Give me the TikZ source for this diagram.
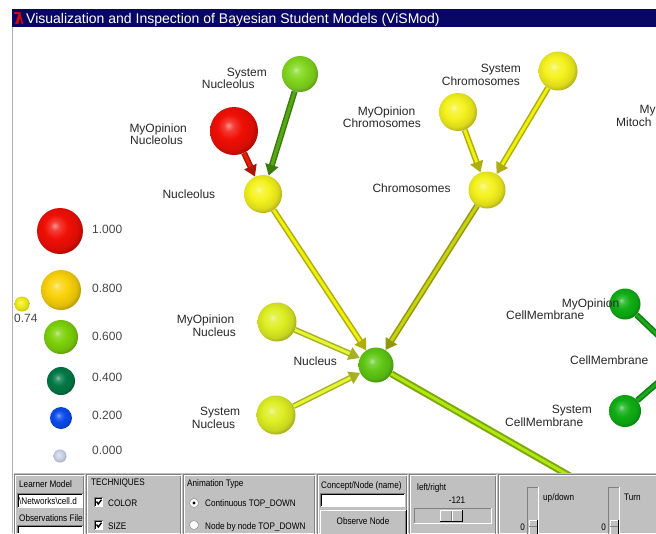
\documentclass[tikz,border=0pt]{standalone}
\usepackage{fontspec}
\setmainfont{Liberation Sans}
\newfontfamily\narrowsans{Liberation Sans}[FakeStretch=0.86]
\usetikzlibrary{arrows.meta}
\definecolor{navy}{RGB}{8,8,100}
\definecolor{pgray}{RGB}{192,192,192}
\definecolor{dgray}{RGB}{128,128,128}
\definecolor{txt}{RGB}{40,40,40}
\definecolor{ltxt}{RGB}{70,70,70}
\definecolor{cRed}{RGB}{240,15,5}
\definecolor{cYel}{RGB}{245,242,30}
\definecolor{cYG}{RGB}{222,238,35}
\definecolor{cLG}{RGB}{130,215,30}
\definecolor{cNuc}{RGB}{95,200,20}
\definecolor{cCM}{RGB}{15,175,20}
\definecolor{cGold}{RGB}{250,210,10}
\definecolor{cY74}{RGB}{240,236,20}
\definecolor{cG6}{RGB}{125,210,10}
\definecolor{cG4}{RGB}{0,120,70}
\definecolor{cB2}{RGB}{10,75,235}
\definecolor{cW0}{RGB}{205,212,232}
\definecolor{rGreen}{RGB}{85,170,20}
\definecolor{rRed}{RGB}{235,30,5}
\definecolor{rYel}{RGB}{240,240,15}
\definecolor{rOlive}{RGB}{200,210,15}
\definecolor{rYG}{RGB}{230,245,50}
\definecolor{rOut}{RGB}{175,232,15}
\definecolor{rCM}{RGB}{25,170,25}
\colorlet{ballc}{red}
\pgfdeclareradialshading[ballc]{myball}{\pgfpoint{-6bp}{6bp}}{%
  color(0bp)=(ballc!45!white); color(5bp)=(ballc!80!white); color(13bp)=(ballc);
  color(23bp)=(ballc!90!black); color(33bp)=(ballc!55!black); color(50bp)=(ballc!40!black)}
\tikzset{
  sphere/.style={circle, inner sep=0pt, draw=none, /utils/exec={\colorlet{ballc}{#1}}, shading=ball@dummy, shading=myball},
  rod/.style={line width=6pt, draw=#1!72!black, -{Triangle[width=13pt,length=11pt]},
    postaction={draw=#1, line width=3pt, -, shorten >=11pt}},
  lbl/.style={anchor=west, inner sep=0pt, text=txt, font=\fontsize{12}{13}\selectfont, text height=8.6pt, text depth=0pt},
  lgd/.style={lbl, text=ltxt},
  ptxt/.style={anchor=west, inner sep=0pt, text=black, font=\narrowsans\fontsize{9.5}{10}\selectfont, text height=6.8pt, text depth=0pt},
  etch/.style={draw=dgray, line width=1pt},
  etchw/.style={draw=white, line width=1pt},
}
\begin{document}
\begin{tikzpicture}[x=1pt,y=-1pt]
\useasboundingbox (0,0) rectangle (656,533);
\fill[white] (0,0) rectangle (656,533);
% title bar
\fill[navy] (12,9) rectangle (656,27);
\draw[red!85!black, line width=1.6pt] (14,13) -- (19.5,13) -- (16,24);
\draw[red!85!black, line width=1.6pt] (17.5,24) -- (20,15) -- (22.5,24);
\node[lbl, text=white, font=\fontsize{14}{15}\selectfont, text height=10pt] (title) at (26,18) {Visualization and Inspection of Bayesian Student Models (ViSMod)};
% window border
\draw[gray!60, line width=1pt] (12.5,27) -- (12.5,533);

\begin{scope}
\clip (13,27) rectangle (656,473);
% legend
\node[sphere=cRed, minimum size=46pt] (l100) at (60,231) {};
\node[sphere=cGold, minimum size=40pt] (l080) at (61,290) {};
\node[sphere=cY74, minimum size=15pt] (l074) at (22,304) {};
\node[sphere=cG6, minimum size=34pt] (l060) at (61,337) {};
\node[sphere=cG4, minimum size=28pt] (l040) at (61,381) {};
\node[sphere=cB2, minimum size=22pt] (l020) at (61,418) {};
\node[sphere=cW0, minimum size=13pt] (l000) at (60,456) {};
\node[lgd] (t100) at (92,229) {1.000};
\node[lgd] (t080) at (92,288) {0.800};
\node[lgd] (t074) at (14,318) {0.74};
\node[lgd] (t060) at (92,336) {0.600};
\node[lgd] (t040) at (92,377) {0.400};
\node[lgd] (t020) at (92,415) {0.200};
\node[lgd] (t000) at (92,450) {0.000};

% network spheres
\node[sphere=cLG, minimum size=36pt] (sno) at (300,74) {};
\node[sphere=cRed, minimum size=48pt] (mno) at (234,131) {};
\node[sphere=cYel, minimum size=38pt] (nol) at (263,194) {};
\node[sphere=cYel, minimum size=39pt] (sch) at (558,71) {};
\node[sphere=cYel, minimum size=38pt] (mch) at (458,112) {};
\node[sphere=cYel, minimum size=37pt] (chr) at (487,190) {};
\node[sphere=cYG, minimum size=39pt] (mnu) at (277,322) {};
\node[sphere=cNuc, minimum size=35pt] (nuc) at (376,365) {};
\node[sphere=cYG, minimum size=39pt] (snu) at (276,415) {};
\node[sphere=cCM, minimum size=31pt] (mcm) at (625,304) {};
\node[sphere=cCM, minimum size=32pt] (scm) at (625,411) {};
\node[sphere=cCM, minimum size=30pt] (cm) at (684,360) {};
\coordinate (cell) at (720,562);

% connectors
\draw[rod=rRed] (mno) -- (nol);
\draw[rod=rGreen] (sno) -- (nol);
\draw[rod=rYel] (nol) -- (nuc);
\draw[rod=rYel] (mch) -- (chr);
\draw[rod=rYel] (sch) -- (chr);
\draw[rod=rOlive] (chr) -- (nuc);
\draw[rod=rYG] (mnu) -- (nuc);
\draw[rod=rYG] (snu) -- (nuc);
\draw[rod=rOut, line width=7pt] (nuc) -- (cell);
\draw[rod=rCM] (mcm) -- (cm);
\draw[rod=rCM] (scm) -- (cm);

% labels
\node[lbl] (lsno1) at (226.7,72.3) {System};
\node[lbl] (lsno2) at (201.7,84.5) {Nucleolus};
\node[lbl] (lmno1) at (129.3,127.7) {MyOpinion};
\node[lbl] (lmno2) at (130,140) {Nucleolus};
\node[lbl] (lnol) at (162.3,194) {Nucleolus};
\node[lbl] (lsch1) at (480.7,67.7) {System};
\node[lbl] (lsch2) at (441.7,80.7) {Chromosomes};
\node[lbl] (lmch1) at (357.7,110.7) {MyOpinion};
\node[lbl] (lmch2) at (342.7,123.3) {Chromosomes};
\node[lbl] (lchr) at (372.3,188.3) {Chromosomes};
\node[lbl] (lmmi1) at (639.3,109.3) {My};
\node[lbl] (lmmi2) at (616,121.7) {Mitoch};
\node[lbl] (lmnu1) at (176.7,319) {MyOpinion};
\node[lbl] (lmnu2) at (192.3,331.7) {Nucleus};
\node[lbl] (lnuc) at (293.3,360.7) {Nucleus};
\node[lbl] (lsnu1) at (200,411) {System};
\node[lbl] (lsnu2) at (191.7,424.3) {Nucleus};
\node[lbl] (lmcm1) at (561.7,303.3) {MyOpinion};
\node[lbl] (lmcm2) at (506,315.5) {CellMembrane};
\node[lbl] (lcm) at (570,360) {CellMembrane};
\node[lbl] (lscm1) at (551.7,409.3) {System};
\node[lbl] (lscm2) at (505,422.3) {CellMembrane};
\end{scope}

% bottom control panel
\fill[pgray] (14,473) rectangle (656,533);
\foreach \a/\b in {14/84,86/181,183/315,317/407,409/496,498/700}{
  \draw[etch] (\a+0.5,474.5) rectangle (\b-0.5,545);
  \draw[etchw] (\a+1.5,475.5) rectangle (\b+0.5,546);
}
% Learner model
\node[ptxt] (tlm) at (19,484) {Learner Model};
\fill[white] (17,493) rectangle (83,508);
\draw[dgray] (17,508) -- (17,493) -- (83,493);
\draw[black] (18,507) -- (18,494) -- (82,494);
\begin{scope}
\clip (18,494) rectangle (83,508);
\node[ptxt] (tfile) at (19,501) {\textbackslash Networks\textbackslash cell.d};
\end{scope}
\node[ptxt] (tobs) at (19,518) {Observations File};
\fill[white] (17,525) rectangle (83,533);
\draw[dgray] (17,533) -- (17,525) -- (83,525);
\draw[black] (18,533) -- (18,526) -- (82,526);
% techniques
\node[ptxt] (ttech) at (91,482) {TECHNIQUES};
\foreach \yy in {497.5,520.5}{
  \fill[white] (94,\yy) rectangle (103,\yy+9);
  \draw[dgray] (94,\yy+9) -- (94,\yy) -- (103,\yy);
  \draw[black] (95,\yy+8) -- (95,\yy+1) -- (102,\yy+1);
  \draw[black, line width=1.4pt] (96.5,\yy+4) -- (98.3,\yy+6.5) -- (101.5,\yy+2.2);
}
\node[ptxt] (tcol) at (108,503) {COLOR};
\node[ptxt] (tsize) at (108,526) {SIZE};
% animation type
\node[ptxt] (tanim) at (187,483) {Animation Type};
\foreach \yy in {503,525}{
  \fill[white] (194,\yy) circle (4.5);
  \draw[dgray] (194,\yy) circle (4.5);
}
\fill[black] (194,503) circle (1.6);
\node[ptxt] (tcont) at (205,503) {Continuous TOP\_DOWN};
\node[ptxt] (tnode) at (205,526) {Node by node TOP\_DOWN};
% concept/node
\node[ptxt] (tconc) at (321,485) {Concept/Node (name)};
\fill[white] (320,493) rectangle (405,507);
\draw[dgray] (320,507) -- (320,493) -- (405,493);
\draw[black] (321,506) -- (321,494) -- (404,494);
\fill[pgray] (320,510) rectangle (406,540);
\draw[white] (320.5,540) -- (320.5,510.5) -- (406,510.5);
\draw[dgray] (405.5,511) -- (405.5,540);
\draw[black] (406.5,510) -- (406.5,540);
\node[ptxt, anchor=center] (tobsn) at (363,521) {Observe Node};
% left/right slider
\node[ptxt] (tlr) at (417,487) {left/right};
\node[ptxt, anchor=center] (tval) at (457,500) {-121};
\draw[dgray] (414,523) -- (414,508) -- (491,508);
\draw[white] (414,523.5) -- (491.5,523.5) -- (491.5,508);
\fill[pgray] (440,510) rectangle (463,522);
\draw[white] (440.5,522) -- (440.5,510.5) -- (463,510.5);
\draw[black] (440,521.5) -- (462.5,521.5) -- (462.5,510);
\draw[dgray] (451.5,511) -- (451.5,521);
\draw[white] (452.5,511) -- (452.5,521);
% vertical sliders
\foreach \xx/\lab/\nm/\zn in {527/up\slash down/tud/tz1,608/Turn/tturn/tz2}{
  \draw[dgray] (\xx,540) -- (\xx,487) -- (\xx+11,487);
  \draw[white] (\xx+11.5,487) -- (\xx+11.5,540);
  \fill[pgray] (\xx+1.5,520) rectangle (\xx+10.5,540);
  \draw[white] (\xx+2,540) -- (\xx+2,520.5) -- (\xx+10.5,520.5);
  \draw[black] (\xx+10.5,520) -- (\xx+10.5,540);
  \draw[dgray] (\xx+2,526.5) -- (\xx+10,526.5);
  \node[ptxt] (\nm) at (\xx+16,497) {\lab};
  \node[ptxt, anchor=east] (\zn) at (\xx-2,527) {0};
}
\end{tikzpicture}
\end{document}
